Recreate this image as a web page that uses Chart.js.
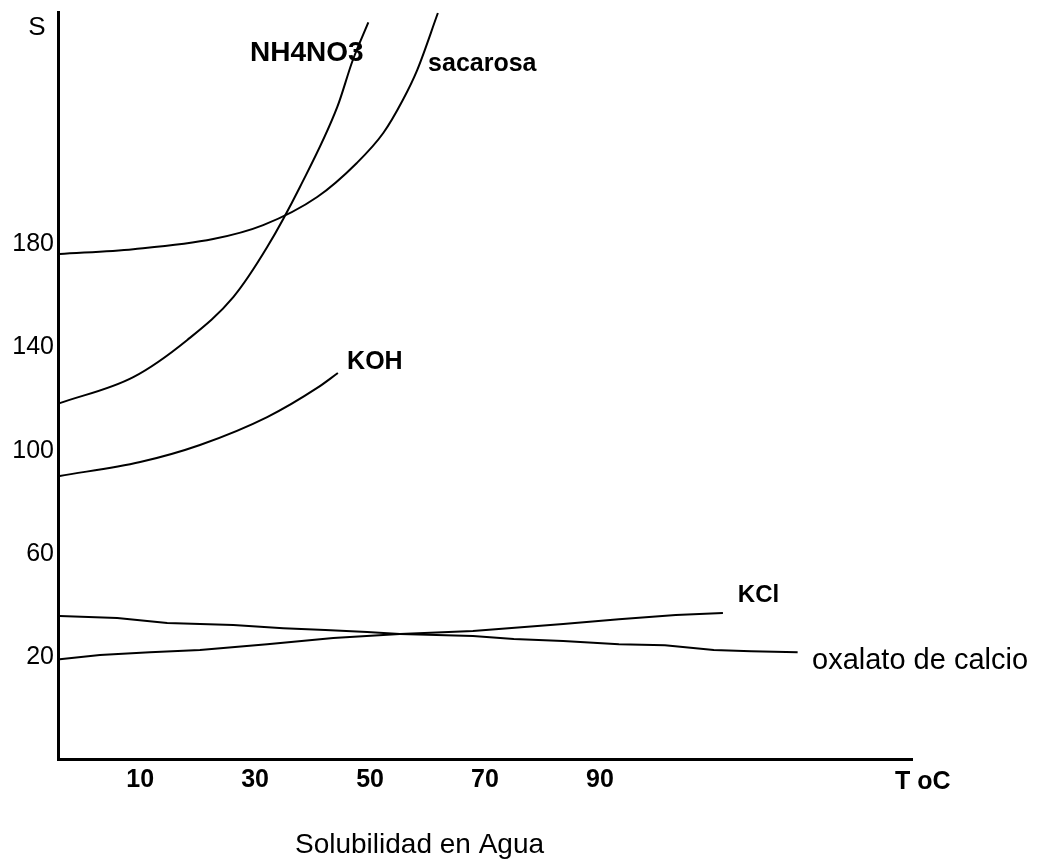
<!DOCTYPE html>
<html>
<head>
<meta charset="utf-8">
<script src="https://cdn.jsdelivr.net/npm/chart.js@4/dist/chart.umd.min.js"></script>
<style>
  html, body { margin: 0; padding: 0; background: #fff; }
  #wrap { width: 1042px; height: 866px; }
</style>
</head>
<body>
<div id="wrap"><canvas id="chart"></canvas></div>
<script>
// values (T in oC, S)
const xTicks = [10, 30, 50, 70, 90];
const yTicks = [20, 60, 100, 140, 180];

const nh4no3T = [-4, 8.8, 18.2, 26.2, 32.1, 37.8, 44.3, 47, 49.7];
const nh4no3S = [118.4, 128.5, 142.9, 159.5, 178.9, 202.2, 233.2, 251.4, 266];

const sacarosaT = [-4, 8.8, 22.7, 31.4, 40.8, 47.7, 52.3, 55.7, 58.2, 61.8];
const sacarosaS = [176.2, 178.1, 182, 187.4, 198.3, 211.5, 223.1, 235.9, 247.5, 269.6];

const kohT = [-4, 10, 20.4, 32.1, 40.8, 44.4];
const kohS = [90.2, 95.6, 102.2, 113, 124.3, 130.1];

const kclT = [-4, 3, 11.7, 20.4, 32.1, 43.6, 55.2, 67.9, 83.6, 93.3, 103.2, 111.4];
const kclS = [19.2, 20.8, 21.9, 22.7, 25, 27.4, 28.9, 30.1, 32.8, 34.7, 36.3, 37.1];

const oxalatoT = [-4, 6, 14.7, 26.2, 34.9, 42.2, 49.5, 55.2, 67.9, 75, 83.6, 93.3, 101.3, 109.8, 116.3, 124.4];
const oxalatoS = [35.9, 35.1, 33.2, 32.4, 31.2, 30.5, 29.7, 28.9, 28.2, 27, 26.2, 25, 24.6, 22.7, 22.3, 21.9];

const FONT = '"Liberation Sans", Arial, sans-serif';

function zip(xs, ys) {
  return xs.map((x, i) => ({ x: x, y: ys[i] }));
}

function series(name, xs, ys, smooth) {
  return {
    label: name,
    data: zip(xs, ys),
    borderColor: "#000",
    borderWidth: 2,
    pointRadius: 0,
    fill: false,
    tension: smooth ? 0.4 : 0,
    cubicInterpolationMode: smooth ? "monotone" : "default",
  };
}

// curve names and free text, anchored in data units
const curveLabels = [
  { text: "NH4NO3", x: 29.1, y: 254.1, size: 28 },
  { text: "sacarosa", x: 60.1, y: 249.7, size: 25 },
  { text: "KOH", x: 46.0, y: 134.3, size: 25 },
  { text: "KCl", x: 114.0, y: 44.0, size: 24 },
  { text: "oxalato de calcio", x: 126.9, y: 18.3, size: 29, weight: "normal" },
];

const textPlugin = {
  id: "freeText",
  afterDraw(chart) {
    const ctx = chart.ctx;
    const xs = chart.scales.x;
    const ys = chart.scales.y;
    const area = chart.chartArea;
    ctx.save();
    ctx.fillStyle = "#000";
    ctx.textAlign = "left";
    ctx.textBaseline = "middle";
    curveLabels.forEach((l) => {
      ctx.font = `${l.weight || "bold"} ${l.size}px ${FONT}`;
      ctx.fillText(l.text, xs.getPixelForValue(l.x), ys.getPixelForValue(l.y));
    });
    ctx.font = `normal 26px ${FONT}`;
    ctx.textAlign = "center";
    ctx.fillText("S", area.left - 21, area.top + 16);
    ctx.font = `bold 25px ${FONT}`;
    ctx.textAlign = "left";
    ctx.fillText("T oC", area.right - 17, area.bottom + 23);
    ctx.font = `normal 28px ${FONT}`;
    ctx.fillText("Solubilidad en Agua", 295, area.bottom + 86);
    ctx.restore();
  },
};

new Chart(document.getElementById("chart"), {
  type: "line",
  data: {
    datasets: [
      series("NH4NO3", nh4no3T, nh4no3S, true),
      series("sacarosa", sacarosaT, sacarosaS, true),
      series("KOH", kohT, kohS, true),
      series("KCl", kclT, kclS, false),
      series("oxalato de calcio", oxalatoT, oxalatoS, false),
    ],
  },
  options: {
    responsive: true,
    maintainAspectRatio: false,
    animation: false,
    layout: { padding: { left: 0, top: 12, right: 130, bottom: 0 } },
    plugins: {
      legend: { display: false },
      tooltip: { enabled: false },
    },
    scales: {
      x: {
        type: "linear",
        min: -4.3,
        max: 144.3,
        grid: { display: false, drawTicks: false },
        border: { display: true, color: "#000", width: 3 },
        afterBuildTicks: (scale) => {
          scale.ticks = xTicks.map((v) => ({ value: v }));
        },
        afterFit: (scale) => {
          scale.height = 107;
          scale.paddingLeft = 0;
          scale.paddingRight = 0;
        },
        ticks: {
          color: "#000",
          padding: 6,
          maxRotation: 0,
          font: { family: FONT, size: 25, weight: "bold" },
        },
      },
      y: {
        type: "linear",
        min: -19.5,
        max: 270,
        grid: { display: false, drawTicks: false },
        border: { display: true, color: "#000", width: 3 },
        afterBuildTicks: (scale) => {
          scale.ticks = yTicks.map((v) => ({ value: v }));
        },
        afterFit: (scale) => {
          scale.width = 58;
          scale.paddingTop = 0;
          scale.paddingBottom = 0;
        },
        ticks: {
          color: "#000",
          padding: 4,
          font: { family: FONT, size: 25 },
        },
      },
    },
  },
  plugins: [textPlugin],
});
</script>
</body>
</html>
